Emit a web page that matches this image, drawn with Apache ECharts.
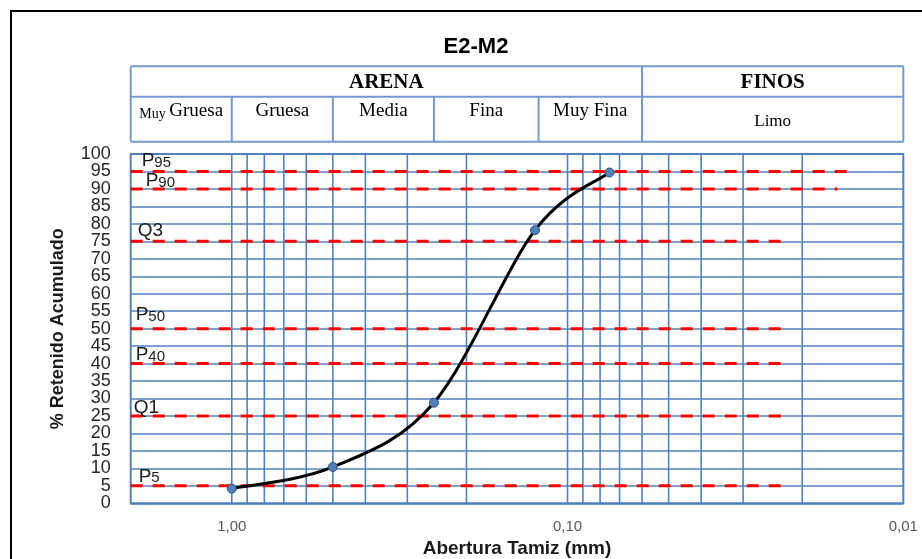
<!DOCTYPE html>
<html>
<head>
<meta charset="utf-8">
<script src="https://cdn.jsdelivr.net/npm/echarts@6/dist/echarts.min.js"></script>
<style>
html,body{margin:0;padding:0;background:#fff;}
#chart{width:922px;height:559px;}
</style>
</head>
<body>
<div id="chart"></div>
<script>
// ---- data ----
const chartTitle = 'E2-M2';
const sieveSizes = [1.0, 0.5, 0.25, 0.125, 0.075];      // mm
const retained = [4.2, 10.4, 28.8, 78.2, 94.7];         // % retenido acumulado
const xGridValues = [1, 0.9, 0.8, 0.7, 0.6, 0.5, 0.4, 0.3, 0.2, 0.1, 0.09, 0.08, 0.07, 0.06, 0.05, 0.04, 0.03, 0.02];
const xTickLabels = ['1,00', '0,10', '0,01'];
const xTickValues = [1, 0.1, 0.01];
const refNames = ['95', '90', '3', '50', '40', '1', '5'];
const refPrefix = ['P', 'P', 'Q', 'P', 'P', 'Q', 'P'];
const refLevels = [95, 90, 75, 50, 40, 25, 5];
const refStartX = [2, 2, 2, 2, 2, 2, 2];
const refEndX = [0.0142, 0.0157, 0.0226, 0.0228, 0.0224, 0.0226, 0.0229];
const headerGroups = ['ARENA', 'FINOS'];
const headerGroupBounds = [2, 0.06, 0.01];
const headerSub = ['Gruesa', 'Gruesa', 'Media', 'Fina', 'Muy Fina', 'Limo'];
const headerSubBounds = [2, 1, 0.5, 0.25, 0.122, 0.06, 0.01];

// ---- styles ----
const BLUE = '#4F81BD';
const TBL = '#7399D0';
const SERIF = '"Liberation Serif", "Times New Roman", serif';
const SANS = '"Liberation Sans", Arial, sans-serif';
const refLabelDx = [11, 15, 7, 5, 5, 3, 8];
const refLabelDy = [-11, -9, -11, -14, -9, -9, -10];

const chart = echarts.init(document.getElementById('chart'), null, {renderer: 'canvas'});

const series = [];
xGridValues.forEach(v => {
  series.push({
    type: 'line', name: 'v' + v, silent: true, z: 1, symbol: 'none',
    lineStyle: {color: BLUE, width: 1.6},
    data: [[v, 0], [v, 100]]
  });
});
refLevels.forEach((lvl, i) => {
  series.push({
    type: 'line', name: refPrefix[i] + refNames[i], silent: true, z: 3,
    symbol: 'none', clip: false,
    lineStyle: {color: '#FF0000', width: 3, type: [12, 10]},
    data: [[refStartX[i], lvl], [refEndX[i], lvl]]
  });
});
// smooth curve (Catmull-Rom style bezier, like a spreadsheet smoothed line), built from the data through api.coord
series.push({
  type: 'custom', name: 'curvaSuave', z: 5, silent: true,
  coordinateSystem: 'cartesian2d',
  data: sieveSizes.map((s, i) => [s, retained[i]]),
  renderItem: function (params, api) {
    const i = params.dataIndex;
    const n = sieveSizes.length;
    if (i >= n - 1) return null;
    const P = k => api.coord([sieveSizes[Math.max(0, Math.min(n - 1, k))], retained[Math.max(0, Math.min(n - 1, k))]]);
    const p0 = P(i - 1), p1 = P(i), p2 = P(i + 1), p3 = P(i + 2);
    const t = 1 / 6;
    return {
      type: 'bezierCurve',
      shape: {
        x1: p1[0], y1: p1[1], x2: p2[0], y2: p2[1],
        cpx1: p1[0] + (p2[0] - p0[0]) * t, cpy1: p1[1] + (p2[1] - p0[1]) * t,
        cpx2: p2[0] - (p3[0] - p1[0]) * t, cpy2: p2[1] - (p3[1] - p1[1]) * t
      },
      style: {stroke: '#000', lineWidth: 3, fill: null, lineCap: 'round'}
    };
  }
});
series.push({
  type: 'scatter', name: 'puntos', z: 6,
  symbol: 'circle', symbolSize: 9,
  itemStyle: {color: BLUE, borderColor: '#2F4F7A', borderWidth: 1, opacity: 1},
  data: sieveSizes.map((s, i) => [s, retained[i]])
});

const yLabelStyle = {fontFamily: SANS, fontSize: 18, color: '#262626', margin: 20,
  showMinLabel: true, showMaxLabel: true, hideOverlap: false};

const option = {
  animation: false,
  backgroundColor: '#fff',
  title: {
    text: chartTitle, left: 471, top: 31, textAlign: 'center',
    textStyle: {fontFamily: SANS, fontSize: 22, fontWeight: 'bold', color: '#000'}
  },
  grid: {left: 130.7, right: 18.7, top: 154, bottom: 55.7, containLabel: false, outerBoundsMode: 'none',
    show: true, borderColor: BLUE, borderWidth: 2, backgroundColor: 'transparent'},
  xAxis: {
    type: 'log', logBase: 10, min: 0.01, max: 2, inverse: true,
    name: 'Abertura Tamiz (mm)', nameLocation: 'middle', nameGap: 34,
    nameTextStyle: {fontFamily: SANS, fontSize: 19, fontWeight: 'bold', color: '#1a1a1a'},
    axisLine: {show: false}, axisTick: {show: false},
    splitLine: {show: false}, minorSplitLine: {show: false},
    axisLabel: {
      fontFamily: SANS, fontSize: 15, color: '#595959', margin: 16,
      showMinLabel: true, showMaxLabel: true, hideOverlap: false,
      formatter: function (v) {
        for (let i = 0; i < xTickValues.length; i++) {
          if (Math.abs(v - xTickValues[i]) / xTickValues[i] < 1e-6) return xTickLabels[i];
        }
        return '';
      }
    }
  },
  yAxis: [{
    type: 'value', min: 0, max: 100, interval: 5, position: 'left',
    name: '% Retenido Acumulado', nameLocation: 'middle', nameGap: 64,
    nameTextStyle: {fontFamily: SANS, fontSize: 18, fontWeight: 'bold', color: '#1a1a1a'},
    axisLine: {show: false}, axisTick: {show: false},
    splitLine: {show: true, lineStyle: {color: BLUE, width: 1.6}},
    axisLabel: Object.assign({}, yLabelStyle, {formatter: v => (Math.round(v) % 10 === 0 ? String(v) : '')})
  }, {
    type: 'value', min: 0, max: 100, interval: 5, position: 'left', offset: 0,
    axisLine: {show: false}, axisTick: {show: false}, splitLine: {show: false},
    axisLabel: Object.assign({}, yLabelStyle, {formatter: v => (Math.round(v) % 10 === 5 ? String(v) : '')})
  }],
  series: series
};
chart.setOption(option);

const px = v => chart.convertToPixel({xAxisIndex: 0}, v);
const py = v => chart.convertToPixel({yAxisIndex: 0}, v);

const g = [];
// outer frame
g.push({type: 'rect', shape: {x: 11, y: 11, width: 930, height: 570}, style: {fill: 'none', stroke: '#000', lineWidth: 2}, z: 0});
// header table
const tTop = 66.3, tMid = 96.7, tBot = 141.7;
const tL = px(headerSubBounds[0]), tR = px(headerSubBounds[headerSubBounds.length - 1]);
[tTop, tMid, tBot].forEach(y => g.push({type: 'line', shape: {x1: tL, y1: y, x2: tR, y2: y}, style: {stroke: TBL, lineWidth: 2}}));
g.push({type: 'line', shape: {x1: tL, y1: tTop, x2: tL, y2: tBot}, style: {stroke: TBL, lineWidth: 2}});
g.push({type: 'line', shape: {x1: tR, y1: tTop, x2: tR, y2: tBot}, style: {stroke: TBL, lineWidth: 2}});
headerGroupBounds.slice(1, -1).forEach(v => g.push({type: 'line', shape: {x1: px(v), y1: tTop, x2: px(v), y2: tBot}, style: {stroke: TBL, lineWidth: 2}}));
headerSubBounds.slice(1, -1).forEach(v => g.push({type: 'line', shape: {x1: px(v), y1: tMid, x2: px(v), y2: tBot}, style: {stroke: TBL, lineWidth: 2}}));
headerGroups.forEach((t, i) => {
  const cx = (px(headerGroupBounds[i]) + px(headerGroupBounds[i + 1])) / 2;
  g.push({type: 'text', x: cx, y: (tTop + tMid) / 2 + 1, style: {text: t, fontFamily: SERIF, fontSize: 21, fontWeight: 'bold', fill: '#000', align: 'center', verticalAlign: 'middle'}});
});
headerSub.forEach((t, i) => {
  const cx = (px(headerSubBounds[i]) + px(headerSubBounds[i + 1])) / 2;
  if (i === 0) {
    g.push({type: 'text', x: cx, y: 111, style: {
      text: '{s|Muy }{b|' + t + '}', align: 'center', verticalAlign: 'middle',
      rich: {s: {fontFamily: SERIF, fontSize: 14, fill: '#000', verticalAlign: 'bottom', lineHeight: 20},
             b: {fontFamily: SERIF, fontSize: 19, fill: '#000', verticalAlign: 'bottom', lineHeight: 20}}
    }});
  } else {
    const last = i === headerSub.length - 1;
    g.push({type: 'text', x: cx, y: last ? 122 : 111, style: {text: t, fontFamily: SERIF, fontSize: last ? 17 : 19, fill: '#000', align: 'center', verticalAlign: 'middle'}});
  }
});
// reference line labels
refLevels.forEach((lvl, i) => {
  g.push({type: 'text', x: px(refStartX[i]) + refLabelDx[i], y: py(lvl) + refLabelDy[i], z: 10, style: {
    text: '{p|' + refPrefix[i] + '}{n|' + refNames[i] + '}', align: 'left', verticalAlign: 'middle',
    rich: {p: {fontFamily: SANS, fontSize: 19, fill: '#1a1a1a', verticalAlign: 'bottom', lineHeight: 20},
           n: {fontFamily: SANS, fontSize: refPrefix[i] === 'Q' ? 19 : 15, fill: '#1a1a1a', verticalAlign: 'bottom', lineHeight: refPrefix[i] === 'Q' ? 20 : 18}}
  }});
});
chart.setOption({graphic: g});
</script>
</body>
</html>
